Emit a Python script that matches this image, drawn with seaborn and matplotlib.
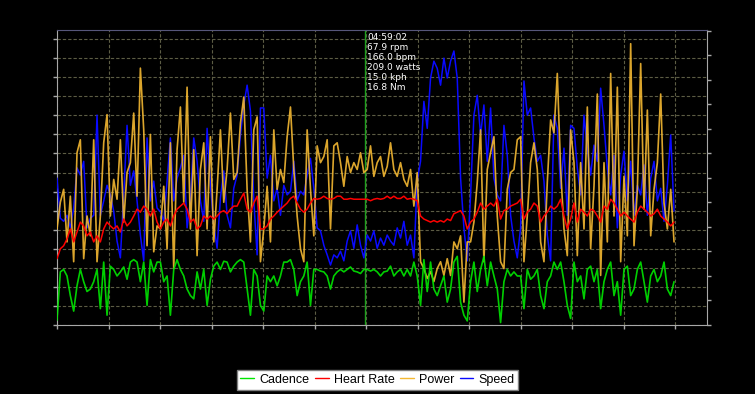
import numpy as np
import matplotlib
matplotlib.use("Agg")
import matplotlib.pyplot as plt
from matplotlib.lines import Line2D
import seaborn as sns

# ride length and cursor position, in seconds
ride_seconds = 35940
cursor_seconds = 4 * 3600 + 59 * 60 + 2

# samples, evenly spaced over the ride
cadence_rpm = [
    6, 65, 68, 60, 36, 17, 48, 68, 53, 41, 44, 53, 68, 20, 77, 12, 72, 68, 60, 65, 71, 56, 77, 80, 77, 53, 77, 24, 80, 65, 77,
    77, 53, 60, 12, 68, 80, 68, 60, 44, 36, 32, 65, 44, 68, 24, 56, 72, 77, 68, 78, 77, 65, 72, 77, 80, 77, 44, 12, 68, 60, 24,
    17, 60, 53, 60, 48, 60, 77, 77, 80, 68, 36, 53, 60, 77, 24, 68, 68, 66, 65, 60, 44, 60, 65, 68, 65, 68, 71, 66, 65, 63, 68,
    68, 66, 68, 65, 60, 65, 66, 72, 60, 65, 68, 60, 68, 60, 77, 60, 24, 80, 41, 77, 44, 36, 48, 60, 28, 44, 77, 84, 28, 12, 5,
    53, 77, 41, 68, 84, 48, 77, 60, 44, 3, 53, 68, 60, 65, 60, 60, 20, 68, 56, 60, 68, 36, 20, 53, 60, 77, 68, 77, 53, 24, 8,
    77, 53, 60, 32, 68, 72, 53, 68, 20, 53, 68, 77, 36, 53, 12, 68, 72, 36, 44, 68, 77, 53, 28, 60, 68, 53, 60, 77, 44, 36, 53,
]
heart_rate_bpm = [
    87, 100, 104, 113, 126, 109, 122, 135, 130, 117, 122, 109, 117, 109, 126, 135, 130, 126, 130, 122, 139, 130, 135, 143, 152, 148, 156, 152, 143, 152, 135,
    126, 135, 139, 130, 143, 152, 156, 160, 152, 135, 139, 126, 130, 143, 139, 143, 139, 143, 148, 150, 146, 152, 156, 156, 165, 173, 152, 148, 160, 169, 126,
    126, 130, 139, 143, 148, 152, 156, 160, 166, 169, 160, 152, 148, 152, 160, 166, 165, 166, 169, 166, 165, 166, 169, 169, 165, 165, 166, 165, 165, 165, 165,
    165, 163, 165, 166, 165, 166, 169, 166, 169, 166, 166, 169, 165, 166, 165, 163, 143, 139, 137, 135, 137, 135, 137, 135, 139, 137, 146, 148, 150, 143, 126,
    135, 139, 148, 160, 152, 156, 160, 156, 165, 139, 150, 152, 156, 158, 160, 165, 139, 148, 152, 160, 156, 135, 143, 148, 156, 152, 156, 165, 143, 126, 139,
    160, 135, 152, 148, 143, 152, 150, 143, 135, 156, 152, 165, 160, 152, 143, 148, 143, 139, 135, 148, 156, 152, 148, 143, 146, 152, 143, 139, 135, 130, 135,
]
power_watts = [
    126, 161, 178, 109, 169, 83, 226, 243, 87, 143, 117, 243, 83, 143, 239, 276, 143, 191, 165, 243, 135, 200, 213, 278, 169, 337, 256, 104, 250, 96, 130,
    126, 182, 100, 239, 74, 230, 286, 161, 312, 126, 230, 91, 204, 239, 126, 247, 109, 178, 256, 161, 204, 278, 191, 200, 265, 299, 178, 109, 256, 273, 83,
    126, 182, 109, 256, 178, 204, 187, 247, 286, 204, 143, 100, 83, 256, 178, 117, 235, 213, 221, 243, 126, 235, 239, 213, 182, 221, 200, 213, 204, 226, 200,
    204, 235, 195, 213, 221, 195, 208, 239, 204, 195, 213, 191, 182, 204, 156, 200, 83, 74, 61, 70, 57, 74, 83, 65, 87, 65, 109, 100, 117, 30, 109,
    109, 135, 187, 256, 83, 204, 226, 247, 143, 83, 74, 178, 200, 204, 243, 247, 83, 143, 213, 239, 204, 109, 83, 187, 269, 252, 330, 204, 126, 91, 256,
    213, 91, 213, 126, 286, 100, 182, 303, 65, 213, 109, 330, 143, 312, 83, 195, 117, 369, 104, 178, 343, 152, 282, 117, 178, 213, 303, 160, 126, 178, 109,
]
speed_kph = [
    24.5, 17.8, 17.3, 18.3, 16.2, 19.5, 26.2, 25, 27.3, 16.2, 17.8, 18.3, 35, 18.3, 20.7, 23.3, 21.7, 19, 14, 11.2, 21.7, 33.3, 23.3, 25.7, 20.7, 15, 10.7, 31.2, 20.7, 24, 19.5,
    18.9, 17.3, 24, 31.2, 20.7, 24.5, 26.2, 28.3, 16.2, 20.7, 31.2, 27.3, 20.7, 17.3, 32.8, 23.3, 16.7, 12.8, 21.2, 25.7, 18.3, 16.2, 22.8, 25, 31.7, 36.7, 40, 35.7, 20.7, 11.7, 36.2,
    36.2, 24.5, 28.3, 20.7, 22.8, 18.3, 23.3, 21.7, 22.3, 27.3, 20.7, 22.3, 21.7, 25, 27.8, 22.8, 16.2, 15.7, 13.3, 11.7, 10, 11.7, 11.2, 12.3, 10.7, 14, 15.7, 12.8, 16.7, 13.3, 11.2,
    15, 14, 15.7, 12.8, 14.5, 13.3, 15, 14, 13.3, 16.2, 14.5, 17.3, 13.3, 15, 11.2, 24, 27.3, 37.3, 32.8, 41.2, 44, 42.8, 40, 44.5, 41.2, 44, 45.7, 41.2, 24.5, 16.2, 10.7,
    21.7, 35, 38.3, 31.7, 36.7, 27.3, 36.2, 24.5, 21.7, 20.7, 33.3, 28.3, 18.3, 14, 11.2, 16.2, 40.7, 35, 36.2, 31.2, 27.3, 28.3, 24, 15, 10.7, 35, 32.8, 22.8, 29.5, 18.3, 33.3,
    32.8, 26.2, 21.7, 35, 29.5, 25, 30, 27.3, 39.5, 33.3, 26.2, 21.7, 28.3, 16.2, 25, 29, 20.7, 27.3, 18.3, 23.3, 21.7, 26.7, 18.3, 24.5, 27.3, 20.7, 22.8, 17.3, 23.3, 31.7, 19,
]

cursor_lines = ["04:59:02", "67.9 rpm", "166.0 bpm", "209.0 watts", "15.0 kph", "16.8 Nm"]
legend_labels = ["Cadence", "Heart Rate", "Power", "Speed"]
colors = {"Cadence": "#00e600", "Heart Rate": "#ff0000", "Power": "#f4b832", "Speed": "#0a0aff"}

sns.set_style("ticks")
plt.rcParams["font.family"] = ["DejaVu Sans"]

fig = plt.figure(figsize=(7.55, 3.94), dpi=100, facecolor="black")
ax = fig.add_axes([57 / 755, 69 / 394, 650 / 755, 295 / 394])
ax.set_facecolor("black")
ax.set_xlim(0, 37860)
ax.set_ylim(0, 387)
ax.set_xticks(np.arange(0, 36001, 3000))
ax.set_yticks(np.arange(0, 376, 25))
ax.tick_params(labelbottom=False, labelleft=False, bottom=True, left=True,
               colors="#a8a8a8", length=3, width=1, direction="out")
ax.grid(True, color="#5c5c44", linestyle=(0, (3, 1.8)), linewidth=0.8)
for side in ["left", "bottom", "right"]:
    ax.spines[side].set_color("#a8a8a8")
ax.spines["top"].set_color("#56567a")
ax.axvline(cursor_seconds, color="#1ea01e", lw=1)

# separate scales for each channel, drawn on top of the base axes
ax_spd = ax.twinx()
ax_pwr = ax.twinx()
ax_cad = ax.twinx()
for z, a in enumerate([ax_spd, ax_pwr, ax_cad], start=1):
    a.set_zorder(z)
    a.patch.set_visible(False)
    for s in a.spines.values():
        s.set_visible(False)
    a.set_xlim(0, 37860)
ax_cad.set_yticks(np.arange(0, 361, 30))
ax_cad.tick_params(axis="y", right=True, labelright=False, colors="#a8a8a8", length=3, width=1)


def ride_line(values, axis, color, lw=1.0, alpha=1.0):
    t = np.linspace(0, ride_seconds, len(values))
    sns.lineplot(x=t, y=values, ax=axis, color=color, lw=lw, alpha=alpha,
                 estimator=None, sort=False, legend=False)
    axis.set_xlabel("")
    axis.set_ylabel("")


ride_line(speed_kph, ax_spd, colors["Speed"], lw=1.1)
ride_line(power_watts, ax_pwr, colors["Power"], lw=1.2, alpha=0.9)
ride_line(heart_rate_bpm, ax_pwr, colors["Heart Rate"], lw=1.1)
ride_line(cadence_rpm, ax_cad, colors["Cadence"], lw=1.2, alpha=0.9)
ax_spd.set_ylim(0, 49.2)
ax_spd.set_yticks([])
ax_pwr.set_ylim(0, 387)
ax_pwr.set_yticks([])
ax_cad.set_ylim(0, 361)

ax_cad.annotate("\n".join(cursor_lines), xy=(cursor_seconds, 1),
                xycoords=("data", "axes fraction"), xytext=(1.5, -2),
                textcoords="offset points", ha="left", va="top",
                color="white", fontsize=6.5, linespacing=1.15)

handles = [Line2D([], [], color=colors[k], lw=1) for k in legend_labels]
leg = fig.legend(handles, legend_labels, loc="center", bbox_to_anchor=(0.5, 0.036),
                 ncol=4, frameon=True, fancybox=False, facecolor="white",
                 edgecolor="#808080", framealpha=1, handlelength=1.1,
                 handletextpad=0.4, columnspacing=0.45, borderpad=0.3,
                 labelcolor="black", prop={"family": "Liberation Sans", "size": 9})
leg.get_frame().set_linewidth(1)

fig.savefig("out.png", dpi=100, facecolor="black")
